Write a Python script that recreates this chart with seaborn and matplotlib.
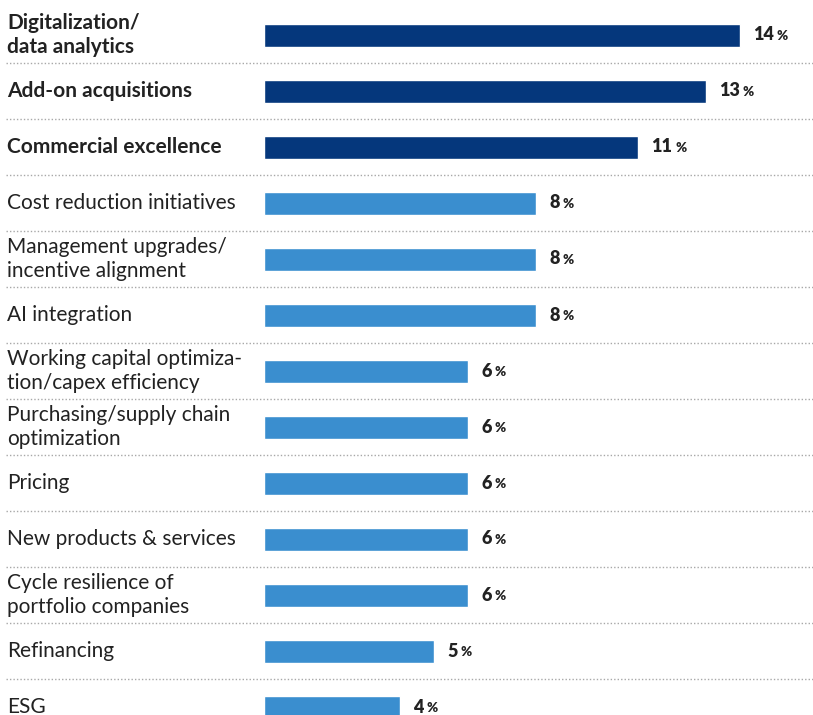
import matplotlib
matplotlib.use("Agg")
import matplotlib.pyplot as plt
import seaborn as sns
import pandas as pd

categories = [
    "Digitalization/\ndata analytics",
    "Add-on acquisitions",
    "Commercial excellence",
    "Cost reduction initiatives",
    "Management upgrades/\nincentive alignment",
    "AI integration",
    "Working capital optimiza-\ntion/capex efficiency",
    "Purchasing/supply chain\noptimization",
    "Pricing",
    "New products & services",
    "Cycle resilience of\nportfolio companies",
    "Refinancing",
    "ESG",
]
values = [14, 13, 11, 8, 8, 8, 6, 6, 6, 6, 6, 5, 4]
top_group = [True, True, True] + [False] * 10

DARK = "#05377C"
LIGHT = "#3A8ECF"
TEXT = "#222222"

df = pd.DataFrame({"category": categories, "value": values,
                   "group": ["top" if t else "rest" for t in top_group]})

sns.set_theme(style="white")
plt.rcParams["font.family"] = ["Lato", "DejaVu Sans"]

W, H, DPI = 813, 715, 100
fig = plt.figure(figsize=(W / DPI, H / DPI), dpi=DPI)
ax = fig.add_axes([0, 0, 1, 1])

px_per_unit = 34.0
x0_px = 264
row_px = 56
first_center_px = 35

sns.barplot(data=df, x="value", y="category", hue="group",
            palette={"top": DARK, "rest": LIGHT}, order=categories,
            hue_order=["top", "rest"], dodge=False, width=23 / row_px,
            legend=False, ax=ax, orient="h", saturation=1)

ax.set_xlim(-x0_px / px_per_unit, (W - x0_px) / px_per_unit)
ax.set_ylim((H - first_center_px) / row_px, -first_center_px / row_px)
ax.axis("off")

label_x = -x0_px / px_per_unit + 7 / px_per_unit
line_x0 = -x0_px / px_per_unit + 6 / px_per_unit
line_x1 = (W - x0_px) / px_per_unit

for i, (cat, val, bold) in enumerate(zip(categories, values, top_group)):
    ax.text(label_x, i, cat, ha="left", va="center", fontsize=15,
            fontweight="bold" if bold else "normal", color=TEXT,
            linespacing=1.22)
    if i < len(categories) - 1:
        ax.plot([line_x0, line_x1], [i + 0.5, i + 0.5], color="#A8A8A8",
                linestyle=(0, (1, 1.5)), linewidth=1.0)

fig.canvas.draw()
renderer = fig.canvas.get_renderer()
for i, val in enumerate(values):
    t = ax.annotate(f"{val}", xy=(val, i), xytext=(13, 0),
                    textcoords="offset pixels", ha="left", va="center",
                    fontsize=13, fontweight="heavy", color=TEXT)
    bb = t.get_window_extent(renderer)
    ax.annotate("%", xy=(bb.x1 + 3, (bb.y0 + bb.y1) / 2 - 0.5),
                xycoords="figure pixels", ha="left", va="center",
                fontsize=9.5, fontweight="heavy", color=TEXT)

fig.savefig("out.png", dpi=DPI)
